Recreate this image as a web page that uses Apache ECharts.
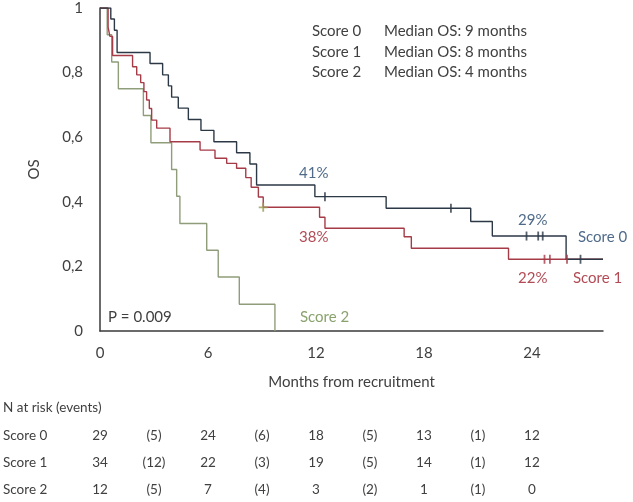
<!DOCTYPE html>
<html>
<head>
<meta charset="utf-8">
<script src="https://cdn.jsdelivr.net/npm/echarts@6/dist/echarts.min.js"></script>
<style>
html,body{margin:0;padding:0;background:#fff;}
#c{width:633px;height:502px;}
</style>
</head>
<body>
<div id="c"></div>
<script>
// ---- data ----
const months0 = [0, 0.6, 0.8, 0.95, 2.78, 3.48, 3.8, 3.98, 4.35, 4.91, 5.61, 6.33, 7.59, 8.33, 8.7, 11.94, 15.9, 20.6, 21.8, 25.9, 27.95];
const surv0   = [1, 0.966, 0.931, 0.862, 0.828, 0.793, 0.759, 0.724, 0.69, 0.655, 0.621, 0.586, 0.552, 0.517, 0.452, 0.416, 0.38, 0.339, 0.294, 0.222, 0.222];
const months1 = [0, 0.45, 0.55, 0.7, 1.81, 2.04, 2.26, 2.44, 2.59, 2.74, 2.87, 3.15, 3.89, 5.56, 6.39, 7.04, 7.59, 8.1, 8.4, 8.8, 9.07, 12.2, 12.5, 16.9, 17.3, 22.7, 27.95];
const surv1   = [1, 0.941, 0.912, 0.853, 0.818, 0.793, 0.769, 0.741, 0.715, 0.689, 0.653, 0.628, 0.586, 0.56, 0.535, 0.519, 0.504, 0.475, 0.445, 0.415, 0.383, 0.352, 0.318, 0.292, 0.256, 0.222, 0.222];
const months2 = [0, 0.4, 0.65, 1.02, 2.41, 2.83, 3.98, 4.26, 4.44, 5.93, 6.57, 7.74, 9.72];
const surv2   = [1, 0.917, 0.833, 0.75, 0.667, 0.583, 0.5, 0.417, 0.333, 0.25, 0.167, 0.083, 0];
const censor0 = [[12.5, 0.416], [19.5, 0.38], [23.7, 0.294], [24.35, 0.294], [24.6, 0.294], [26.7, 0.222]];
const censor1 = [[24.7, 0.222], [25.0, 0.222], [25.95, 0.222]];
const censor1b = [[9.07, 0.383]];
const xTicks = [0, 6, 12, 18, 24];
const yTicks = [0, 0.2, 0.4, 0.6, 0.8, 1];
const medianScores = ['Score 0', 'Score 1', 'Score 2'];
const medianMonths = [9, 8, 4];
const riskMonths = [0, 6, 12, 18, 24];
const atRisk0 = [29, 24, 18, 13, 12];
const atRisk1 = [34, 22, 19, 14, 12];
const atRisk2 = [12, 7, 3, 1, 0];
const events0 = [5, 6, 5, 1];
const events1 = [12, 3, 5, 1];
const events2 = [5, 4, 2, 1];
const pValue = 'P = 0.009';
const pct0 = ['41%', '29%'];
const pct1 = ['38%', '22%'];

// ---- styles ----
const FONT = 'Lato';
const TXT = '#404040';
const C0 = '#2c3846', C1 = '#a53b46', C2 = '#8f9d7a';
const L0 = '#506b8a', L1 = '#b24b55', L2 = '#8aa26e';

function zip(t, s) { return t.map((v, i) => [v, s[i]]); }

const chart = echarts.init(document.getElementById('c'), null, {renderer: 'canvas'});

function stepSeries(name, data, color, z) {
  return {
    name: name, type: 'line', step: 'end', data: data, showSymbol: false, symbol: 'none',
    lineStyle: {color: color, width: 1.4}, z: z, animation: false
  };
}

chart.setOption({
  animation: false,
  backgroundColor: '#fff',
  grid: {left: 100, right: 30, top: 8, bottom: 171},
  xAxis: {
    type: 'value', min: 0, max: 27.95, interval: 6,
    axisLine: {show: true, lineStyle: {color: '#3a3a3a', width: 1.5}},
    axisTick: {show: false}, splitLine: {show: false},
    axisLabel: {
      margin: 15, fontFamily: FONT, fontSize: 15, color: TXT,
      showMaxLabel: false,
      formatter: v => xTicks.indexOf(v) >= 0 ? String(v) : ''
    },
    name: 'Months from recruitment', nameLocation: 'middle', nameGap: 44,
    nameTextStyle: {fontFamily: FONT, fontSize: 15, color: TXT}
  },
  yAxis: {
    type: 'value', min: 0, max: 1, interval: 0.2,
    axisLine: {show: true, lineStyle: {color: '#3a3a3a', width: 1.5}},
    axisTick: {show: false}, splitLine: {show: false},
    axisLabel: {
      margin: 17, fontFamily: FONT, fontSize: 15, color: TXT,
      formatter: v => {
        const t = yTicks.find(k => Math.abs(k - v) < 1e-6);
        if (t === undefined) return '';
        return (t === 0 || t === 1) ? String(t) : t.toFixed(1).replace('.', ',');
      }
    },
    name: 'OS', nameLocation: 'middle', nameGap: 58,
    nameTextStyle: {fontFamily: FONT, fontSize: 15, color: TXT}
  },
  series: [
    stepSeries('Score 2', zip(months2, surv2), C2, 2),
    stepSeries('Score 1', zip(months1, surv1), C1, 3),
    stepSeries('Score 0', zip(months0, surv0), C0, 4),
    {
      type: 'scatter', data: censor1, symbol: 'rect', symbolSize: [1.8, 9],
      itemStyle: {color: C1}, z: 5, animation: false, silent: true
    },
    {
      type: 'scatter', data: censor1b, symbol: 'path://M4,0H6V4H10V6H6V10H4V6H0V4H4Z', symbolSize: 9,
      itemStyle: {color: '#9c9a52'}, z: 5, animation: false, silent: true
    },
    {
      type: 'scatter', data: censor0, symbol: 'rect', symbolSize: [1.8, 9],
      itemStyle: {color: C0}, z: 6, animation: false, silent: true
    }
  ]
});

// ---- texts: legend, annotations, risk table ----
function txt(x, y, s, opts) {
  return {
    type: 'text', x: x, y: y, silent: true, z: 50,
    style: Object.assign({
      text: s, fontFamily: FONT, fontSize: 15, fill: TXT,
      textAlign: 'left', textVerticalAlign: 'middle'
    }, opts || {})
  };
}
const g = [];
const legendY = [31, 52, 72];
medianScores.forEach((s, i) => {
  g.push(txt(312, legendY[i], s));
  g.push(txt(384, legendY[i], 'Median OS: ' + medianMonths[i] + ' months'));
});
g.push(txt(108, 317, pValue));
g.push(txt(300, 317, 'Score 2', {fill: L2}));
g.push(txt(299, 173, pct0[0], {fill: L0}));
g.push(txt(518, 220, pct0[1], {fill: L0}));
g.push(txt(578, 237, 'Score 0', {fill: L0}));
g.push(txt(299, 237, pct1[0], {fill: L1}));
g.push(txt(518, 278, pct1[1], {fill: L1}));
g.push(txt(573, 278, 'Score 1', {fill: L1}));

// risk table
const TFS = 13.5;
g.push(txt(3, 408, 'N at risk (events)', {fontSize: TFS}));
const rowsRisk = [atRisk0, atRisk1, atRisk2];
const rowsEv = [events0, events1, events2];
const rowY = [436, 463, 490];
rowsRisk.forEach((arr, r) => {
  g.push(txt(3, rowY[r], medianScores[r], {fontSize: TFS}));
  arr.forEach((v, k) => {
    const px = chart.convertToPixel({xAxisIndex: 0}, riskMonths[k]);
    g.push(txt(px, rowY[r], String(v), {fontSize: TFS, textAlign: 'center'}));
  });
  rowsEv[r].forEach((v, k) => {
    const mid = (riskMonths[k] + riskMonths[k + 1]) / 2;
    const px = chart.convertToPixel({xAxisIndex: 0}, mid);
    g.push(txt(px, rowY[r], '(' + v + ')', {fontSize: TFS, textAlign: 'center'}));
  });
});
chart.setOption({graphic: g});
</script>
</body>
</html>
